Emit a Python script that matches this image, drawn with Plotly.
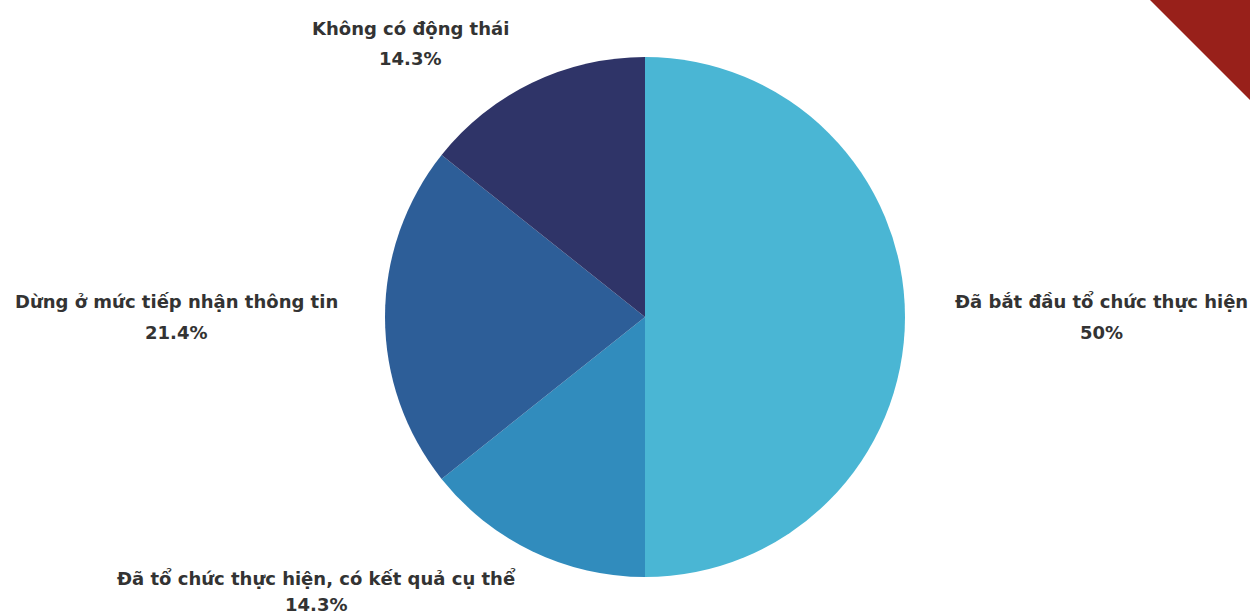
import plotly.graph_objects as go

labels = ["Đã bắt đầu tổ chức thực hiện", "Đã tổ chức thực hiện, có kết quả cụ thể",
          "Dừng ở mức tiếp nhận thông tin", "Không có động thái"]
values = [50, 14.3, 21.4, 14.3]
colors = ["#4AB6D4", "#318CBD", "#2D5E98", "#2F3468"]

W, H = 1250, 615
cx, cy, r = 645, 317, 260

fig = go.Figure(go.Pie(
    labels=labels, values=values, sort=False, direction="clockwise", rotation=0,
    marker=dict(colors=colors, line=dict(width=0)),
    textinfo="none", hoverinfo="label+percent", showlegend=False,
    domain=dict(x=[(cx - r) / W, (cx + r) / W], y=[1 - (cy + r) / H, 1 - (cy - r) / H]),
))

# label positions (pixel centres of the label line and of the percentage line)
label_pos = [(1101, 302, 332), (316, 578, 604), (176, 302, 332), (410, 28, 58)]
font = dict(family="'DejaVu Sans', sans-serif", size=18, color="#333333", weight="bold")
anns = []
for lab, v, (x, y1, y2) in zip(labels, values, label_pos):
    anns.append(dict(x=x / W, y=1 - y1 / H, xref="paper", yref="paper", text=lab,
                     showarrow=False, font=font, xanchor="center", yanchor="middle"))
    anns.append(dict(x=x / W, y=1 - y2 / H, xref="paper", yref="paper", text=f"{v:g}%",
                     showarrow=False, font=font, xanchor="center", yanchor="middle"))

fig.update_layout(
    width=W, height=H, margin=dict(l=0, r=0, t=0, b=0),
    paper_bgcolor="white", plot_bgcolor="white",
    annotations=anns,
    shapes=[dict(type="path", xref="paper", yref="paper",
                 path=f"M {1150/W} 1 L 1 1 L 1 {1 - 100/H} Z",
                 fillcolor="#98201A", line=dict(width=0))],
)
fig.write_html("out.html")
